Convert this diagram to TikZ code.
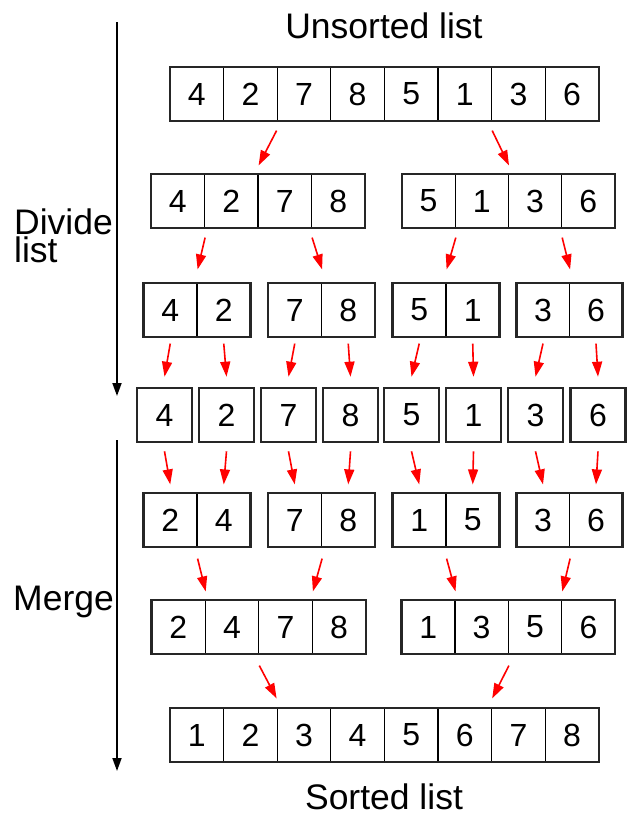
\documentclass[tikz,border=0pt]{standalone}
\usepackage{fontspec}
\setmainfont{Liberation Sans}
\usetikzlibrary{arrows.meta}
\tikzset{
  cell/.style={draw=black, line width=1.2pt, minimum height=54pt, inner sep=0pt, font=\fontsize{32}{32}\selectfont},
  grp/.style={draw=black!85, line width=2.6pt, minimum height=54pt, inner sep=0pt, font=\fontsize{32}{32}\selectfont},
  redarr/.style={draw=red, line width=1.6pt, -{Triangle[length=15pt,width=10pt]}},
  blackarr/.style={draw=black, line width=1.8pt, -{Triangle[length=13pt,width=9pt]}},
  lbl/.style={inner sep=0pt, font=\fontsize{35.5}{28}\selectfont}
}
% #1 name, #2 left x, #3 centre y, #4 cell width, #5 number of cells, #6 values
\newcommand\cellrow[6]{%
  \foreach \v [count=\i] in {#6} {
    \node[cell, minimum width={#4*1pt}] (#1c\i) at ({#2+(\i-0.5)*#4}, #3) {\v};
  }
  \node[grp, minimum width={#5*#4*1pt}] (#1) at ({#2+#5*#4/2}, #3) {};
}
% single boxed cell
\newcommand\single[4]{%
  \node[grp, minimum width=55pt] (#1) at (#2, #3) {#4};
}
% red connector: #1 source anchor, #2 gap below, #3 target anchor, #4 gap above
\newcommand\conn[4]{\draw[redarr] ([yshift=-#2pt]#1) -- ([yshift=#4pt]#3);}
\begin{document}
\begin{tikzpicture}[x=1pt, y=-1pt]
\useasboundingbox (0,0) rectangle (629,815);

% labels
\node[lbl, anchor=base] (unsorted) at (384,38) {Unsorted list};
\node[lbl, anchor=base] (sorted) at (384,809) {Sorted list};
\node[lbl, anchor=west, align=left] (divide) at (14,236) {Divide\\list};
\node[lbl, anchor=base west] (merge) at (13,610) {Merge};

% left black arrows
\coordinate (d0) at (117,22);
\coordinate (d1) at (117,396);
\coordinate (m0) at (117,440);
\coordinate (m1) at (117,771);
\draw[blackarr] (d0) -- (d1);
\draw[blackarr] (m0) -- (m1);

% row 1
\cellrow{r1}{170}{94}{53.6}{8}{4,2,7,8,5,1,3,6}
% row 2
\cellrow{r2a}{151}{201}{53.5}{4}{4,2,7,8}
\cellrow{r2b}{402}{201}{53.2}{4}{5,1,3,6}
% row 3
\cellrow{r3a}{143.5}{310}{53.5}{2}{4,2}
\cellrow{r3b}{268}{310}{53.5}{2}{7,8}
\cellrow{r3c}{392.5}{310}{53.5}{2}{5,1}
\cellrow{r3d}{516.5}{310}{53}{2}{3,6}
% row 4
\single{r4c1}{164.5}{415}{4}
\single{r4c2}{226.5}{415}{2}
\single{r4c3}{288.5}{415}{7}
\single{r4c4}{350.5}{415}{8}
\single{r4c5}{411.5}{415}{5}
\single{r4c6}{473.5}{415}{1}
\single{r4c7}{535.5}{415}{3}
\single{r4c8}{598}{415}{6}
% row 5
\cellrow{r5a}{143.5}{520}{53.5}{2}{2,4}
\cellrow{r5b}{268}{520}{53.5}{2}{7,8}
\cellrow{r5c}{392.5}{520}{53.5}{2}{1,5}
\cellrow{r5d}{516.5}{520}{53}{2}{3,6}
% row 6
\cellrow{r6a}{151.5}{627}{53.6}{4}{2,4,7,8}
\cellrow{r6b}{401.5}{627}{53.4}{4}{1,3,5,6}
% row 7
\cellrow{r7}{170}{735}{53.6}{8}{1,2,3,4,5,6,7,8}

% row 1 -> row 2
\conn{r1c3.south west}{9}{r2ac2.north east}{8}
\conn{r1c6.south east}{9}{r2bc2.north east}{8}
% row 2 -> row 3
\conn{r2ac1.south east}{9}{r3ac1.north east}{13}
\conn{r2ac3.south east}{9}{r3bc1.north east}{13}
\conn{r2bc1.south east}{9}{r3cc1.north east}{13}
\conn{r2bc3.south east}{9}{r3dc1.north east}{13}
% row 3 -> row 4
\conn{r3ac1.south}{6}{r4c1.north}{10}
\conn{r3ac2.south}{6}{r4c2.north}{10}
\conn{r3bc1.south}{6}{r4c3.north}{10}
\conn{r3bc2.south}{6}{r4c4.north}{10}
\conn{r3cc1.south}{6}{r4c5.north}{10}
\conn{r3cc2.south}{6}{r4c6.north}{10}
\conn{r3dc1.south}{6}{r4c7.north}{10}
\conn{r3dc2.south}{6}{r4c8.north}{10}
% row 4 -> row 5
\conn{r4c1.south}{8}{r5ac1.north}{8}
\conn{r4c2.south}{8}{r5ac2.north}{8}
\conn{r4c3.south}{8}{r5bc1.north}{8}
\conn{r4c4.south}{8}{r5bc2.north}{8}
\conn{r4c5.south}{8}{r5cc1.north}{8}
\conn{r4c6.south}{8}{r5cc2.north}{8}
\conn{r4c7.south}{8}{r5dc1.north}{8}
\conn{r4c8.south}{8}{r5dc2.north}{8}
% row 5 -> row 6
\conn{r5ac1.south east}{11}{r6ac1.north east}{8}
\conn{r5bc1.south east}{11}{r6ac3.north east}{8}
\conn{r5cc1.south east}{11}{r6bc1.north east}{8}
\conn{r5dc1.south east}{11}{r6bc3.north east}{8}
% row 6 -> row 7
\conn{r6ac2.south east}{11}{r7c3.north west}{9}
\conn{r6bc2.south east}{11}{r7c6.north east}{9}
\end{tikzpicture}
\end{document}
